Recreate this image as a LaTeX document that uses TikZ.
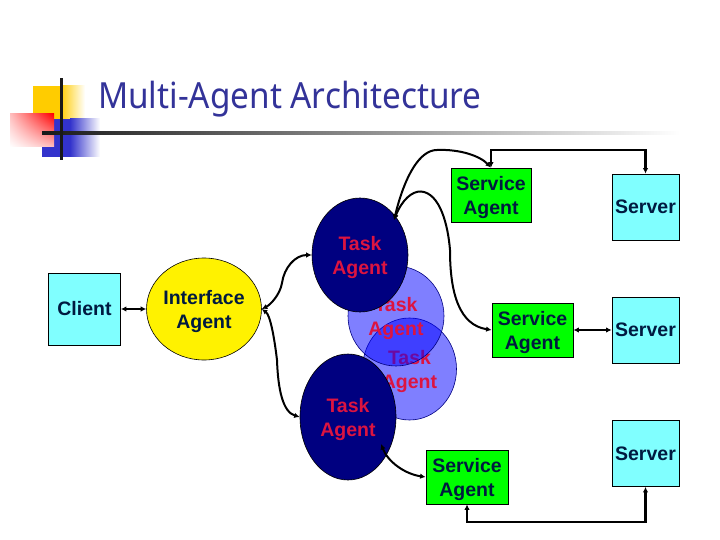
\documentclass[tikz,border=0pt]{standalone}
\usepackage{fontspec}
\setmainfont{Liberation Sans}
\newfontfamily\titlefont[FakeStretch=0.925]{Noto Sans}
\usetikzlibrary{shapes.geometric,arrows.meta,shadings}
\newcommand{\liftline}{\rule{0pt}{19pt}}
\definecolor{titleblue}{HTML}{333399}
\definecolor{navyfill}{HTML}{000080}
\definecolor{lightblue}{HTML}{0000FF}
\definecolor{cyanfill}{HTML}{80FFFF}
\definecolor{greenfill}{HTML}{00FF00}
\definecolor{taskred}{HTML}{DC1440}
\definecolor{darktext}{HTML}{001A40}
\definecolor{deepblue}{HTML}{3333CC}
\definecolor{goldfill}{HTML}{FFCC00}
\tikzset{
  lbl/.style={font=\fontsize{19.5}{24}\selectfont\bfseries,align=center,inner sep=0pt},
  clientbox/.style={lbl,draw=black,line width=.8pt,fill=cyanfill,text=darktext},
  agentbox/.style={lbl,draw=black,line width=.8pt,fill=greenfill,text=darktext},
  roundagent/.style={lbl,ellipse,draw=black,line width=.6pt,minimum width=96pt,fill=yellow,text=darktext},
  darktask/.style={lbl,ellipse,draw=black,line width=.6pt,fill=navyfill,text=taskred,minimum width=96pt},
  lighttask/.style={lbl,ellipse,draw=navyfill,line width=.6pt,fill=lightblue,fill opacity=.5,text opacity=1,text=taskred,minimum width=96pt},
  link/.style={line width=2pt,black,{Latex[length=5.5pt,width=5.5pt]}-{Latex[length=5.5pt,width=5.5pt]}},
  heavylink/.style={link,line width=2.6pt},
}
\begin{document}
\begin{tikzpicture}[x=1pt,y=-1pt]
\useasboundingbox (0,0) rectangle (720,540);
\fill[white] (0,0) rectangle (720,540);
% decoration
\shade[left color=goldfill,right color=white,shading=axis] (60,86) rectangle (85,119);
\fill[goldfill] (33,86) rectangle (60,119);
\shade[left color=deepblue,right color=white] (70,119) rectangle (100,157);
\fill[deepblue] (42,119) rectangle (70,157);
\shade[lower left=white,upper left=red!25!white,upper right=red,lower right=red!25!white] (10,114) rectangle (54,147);
\shade[left color=black!90,right color=white] (42,132) rectangle (680,134.5);
\fill[black!90] (60.2,78) rectangle (63,160.5);
\node[font=\fontsize{36}{40}\selectfont\titlefont,text=titleblue,anchor=base west,inner sep=0pt] (title) at (98,109) {Multi-Agent Architecture};
% nodes
\node[clientbox,minimum width=72pt,minimum height=72pt] (client) at (84.5,309) {Client};
\node[roundagent,minimum height=102pt] (iface) at (204,309) {\liftline Interface\\Agent};
\node[lighttask,minimum width=94pt,minimum height=102pt] (t3) at (409.5,369) {\liftline Task\\Agent};
\node[lighttask,minimum height=100pt] (t2) at (396,316) {\liftline Task\\Agent};
\node[darktask,minimum height=114pt] (t1) at (360,255) {\liftline Task\\Agent};
\node[darktask,minimum height=126pt] (t4) at (348,417) {\liftline Task\\Agent};
\node[agentbox,minimum width=80pt,minimum height=54pt] (s1) at (491,195) {\liftline Service\\Agent};
\node[agentbox,minimum width=81pt,minimum height=54pt] (s2) at (532.5,330) {\liftline Service\\Agent};
\node[agentbox,minimum width=82pt,minimum height=54pt] (s3) at (467,477) {\liftline Service\\Agent};
\node[clientbox,minimum width=67pt,minimum height=66pt] (v1) at (645.5,207) {Server};
\node[clientbox,minimum width=67pt,minimum height=66pt] (v2) at (645.5,330) {Server};
\node[clientbox,minimum width=67pt,minimum height=66pt,text depth=0pt] (v3) at (645.5,453.5) {Server};
% connector ends and routing points
\coordinate (t1port) at (394,220);
\coordinate (t4port) at (381,444);
\coordinate (topy) at (0,150);
\coordinate (boty) at (0,522);
% connectors
\draw[link] (client) -- (iface);
\draw[link] (s2) -- (v2);
\draw[heavylink] (s1.north) |- (topy -| v1.north) -- (v1.north);
\draw[heavylink] (s3.south) |- (boty -| v3.south) -- (v3.south);
\draw[link] (t1port) .. controls (405,175) and (420,150) .. (437,150) .. controls (460,149) and (480,156) .. (s1.north);
\draw[link] (t1port) .. controls (402,200) and (412,191) .. (421,191.5) .. controls (440,193) and (448,225) .. (450,250) .. controls (450,295) and (460,325) .. (s2.west);
\draw[link] (iface.east) .. controls (270,305) and (280,295) .. (282,283) .. controls (284,268) and (295,255) .. (t1.west);
\draw[link] (iface.east) .. controls (270,315) and (274,335) .. (277,360) .. controls (278,390) and (283,412) .. (t4.west);
\draw[link] (t4port) .. controls (388,462) and (405,474) .. (s3.west);
\end{tikzpicture}
\end{document}
